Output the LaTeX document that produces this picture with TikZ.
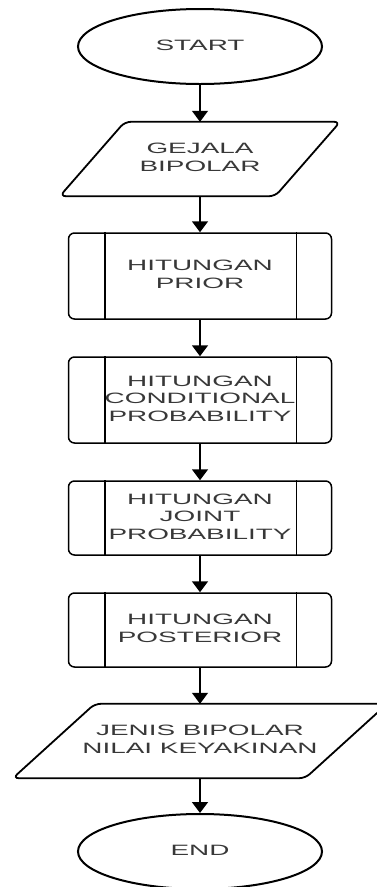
\documentclass[tikz,border=0pt]{standalone}
\usepackage{fontspec}
\setmainfont{Liberation Sans}
\usepackage{graphicx}
\usetikzlibrary{shapes.geometric,arrows.meta,calc}
\newcommand{\wt}[1]{\scalebox{1.86}[1]{\begin{tabular}{@{}c@{}}#1\end{tabular}}}
\tikzset{
  base/.style={font=\fontsize{15}{17.5}\selectfont, text=black!78, inner sep=0pt},
  term/.style={base, ellipse, draw, line width=2pt, minimum width=244pt, minimum height=75pt},
  proc/.style={base, rectangle, draw, line width=1.5pt, rounded corners=6pt, minimum width=263pt},
  iobox/.style={base, rectangle, draw=none, minimum height=74pt},
  ioline/.style={line width=1.8pt, rounded corners=6pt},
  inner/.style={line width=1.5pt},
  arr/.style={line width=1.5pt, -{Triangle[width=16pt,length=11pt]}}
}
\begin{document}
\begin{tikzpicture}[x=1pt,y=-1pt]
\clip (0,0) rectangle (377,887);
\useasboundingbox (0,0) rectangle (377,887);

\node[term] (start) at (200,46.5) {\wt{START}};

\node[iobox, minimum width=280pt] (gej) at (200,159) {\wt{GEJALA\\BIPOLAR}};
\draw[ioline] (gej.south west) -- ([xshift=65pt]gej.north west) -- (gej.north east) -- ([xshift=-65pt]gej.south east) -- cycle;

\node[proc, minimum height=86pt] (prior) at (200,276) {\wt{HITUNGAN\\PRIOR}};
\node[proc, minimum height=86pt] (cond) at (200,400) {\wt{HITUNGAN\\CONDITIONAL\\PROBABILITY}};
\node[proc, minimum height=74pt] (joint) at (200,518) {\wt{HITUNGAN\\JOINT\\PROBABILITY}};
\node[proc, minimum height=74pt] (post) at (200,630) {\wt{HITUNGAN\\POSTERIOR}};

\foreach \n in {prior,cond,joint,post}{
  \draw[inner] ([xshift=37pt]\n.north west) -- ([xshift=37pt]\n.south west);
  \draw[inner] ([xshift=-36pt]\n.north east) -- ([xshift=-36pt]\n.south east);
}

\node[iobox, minimum width=374pt] (jenis) at (200,741) {\wt{JENIS BIPOLAR\\NILAI KEYAKINAN}};
\draw[ioline] (jenis.south west) -- ([xshift=82pt]jenis.north west) -- (jenis.north east) -- ([xshift=-82pt]jenis.south east) -- cycle;

\node[term] (end) at (200,851.5) {\wt{END}};

\draw[arr] (start) -- (gej);
\draw[arr] (gej) -- (prior);
\draw[arr] (prior) -- (cond);
\draw[arr] (cond) -- (joint);
\draw[arr] (joint) -- (post);
\draw[arr] (post) -- (jenis);
\draw[arr] (jenis) -- (end);
\end{tikzpicture}
\end{document}
